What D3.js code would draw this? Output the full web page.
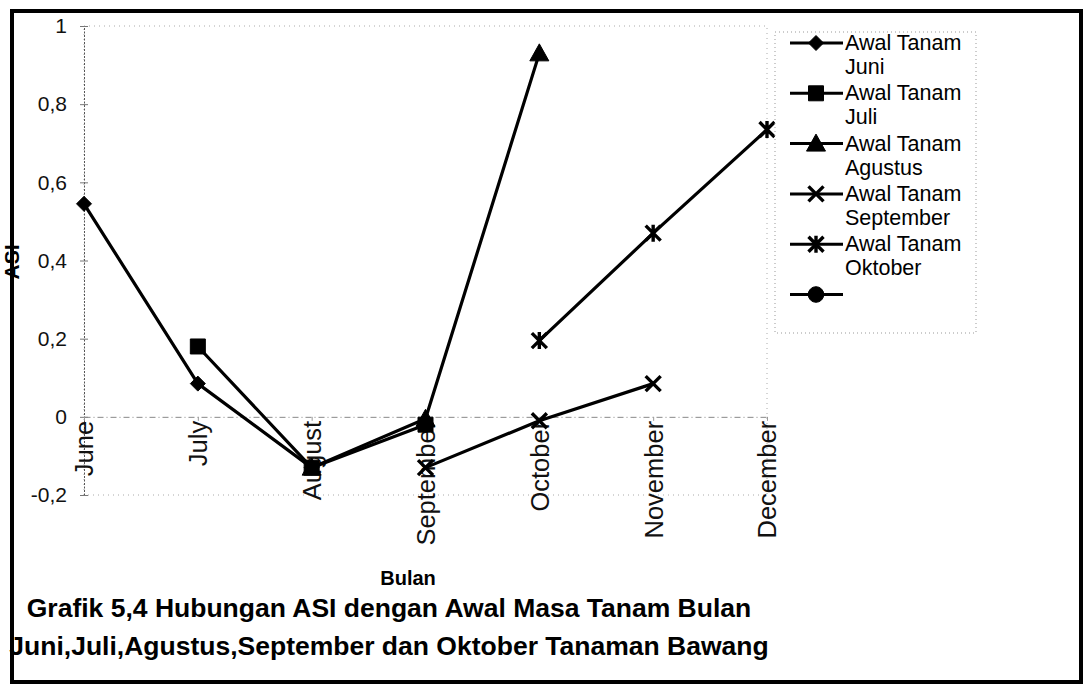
<!DOCTYPE html>
<html>
<head>
<meta charset="utf-8">
<script src="https://cdn.jsdelivr.net/npm/d3@7"></script>
<style>
  body { margin: 0; background: #fff; }
  svg { display: block; font-family: "Liberation Sans", Arial, sans-serif; }
</style>
</head>
<body>
<div id="chart"></div>
<script>
const width = 1089;
const height = 686;

// categories and tick labels
const months = ["June", "July", "August", "September", "October", "November", "December"];
const yTicks = [-0.2, 0, 0.2, 0.4, 0.6, 0.8, 1];

// ASI per planting start month (null = no value)
const juni = [0.545, 0.085, -0.13, null, null, null, null];
const juli = [null, 0.18, -0.13, -0.02, null, null, null];
const agustus = [null, null, -0.13, -0.005, 0.93, null, null];
const september = [null, null, null, -0.13, -0.01, 0.085, null];
const oktober = [null, null, null, null, 0.195, 0.47, 0.735];
const kosong = [null, null, null, null, null, null, null];

const legendLabels = [
  ["Awal Tanam", "Juni"],
  ["Awal Tanam", "Juli"],
  ["Awal Tanam", "Agustus"],
  ["Awal Tanam", "September"],
  ["Awal Tanam", "Oktober"],
  ["", ""]
];
const markerTypes = ["diamond", "square", "triangle", "cross", "asterisk", "circle"];
const seriesValues = [juni, juli, agustus, september, oktober, kosong];

const plot = { left: 84, right: 767, top: 26, bottom: 495 };

const svg = d3
  .select("#chart")
  .append("svg")
  .attr("width", width)
  .attr("height", height);

const x = d3.scalePoint().domain(months).range([plot.left, plot.right]);
const y = d3.scaleLinear().domain([-0.2, 1]).range([plot.bottom, plot.top]);

// decimal comma, plain hyphen minus
const fmt = (v) => String(+v.toFixed(1)).replace(".", ",");

// plot area outline (faint dotted, like the scan)
svg
  .append("rect")
  .attr("x", plot.left)
  .attr("y", plot.top)
  .attr("width", plot.right - plot.left)
  .attr("height", plot.bottom - plot.top)
  .attr("fill", "none")
  .attr("stroke", "#aaa")
  .attr("stroke-width", 1)
  .attr("stroke-dasharray", "1,4");

// y axis
const yAxis = svg
  .append("g")
  .attr("transform", `translate(${plot.left},0)`)
  .call(d3.axisLeft(y).tickValues(yTicks).tickSize(0).tickPadding(17).tickFormat(fmt));
yAxis.select(".domain").attr("stroke", "#555").attr("stroke-dasharray", "2,1.5");
yAxis.selectAll("text").attr("font-size", 21).attr("fill", "#111").attr("font-family", "Liberation Sans, Arial, sans-serif");
yAxis
  .selectAll(".tick")
  .append("line")
  .attr("x1", -4)
  .attr("x2", 4)
  .attr("stroke", "#777");

// x axis at zero
const xAxis = svg
  .append("g")
  .attr("transform", `translate(0,${y(0)})`)
  .call(d3.axisBottom(x).tickSize(4).tickSizeOuter(0).tickPadding(4));
xAxis.select(".domain").attr("stroke", "#888").attr("stroke-dasharray", "6,3,1,3");
xAxis.selectAll(".tick line").attr("stroke", "#999");
xAxis
  .selectAll("text")
  .attr("font-size", 25.5)
  .attr("fill", "#111")
  .attr("font-family", "Liberation Sans, Arial, sans-serif")
  .attr("text-anchor", "end")
  .attr("dy", "0.35em")
  .attr("transform", "rotate(-90)")
  .attr("x", -4)
  .attr("y", 0);

// axis titles
svg
  .append("text")
  .attr("transform", `translate(19,${262}) rotate(-90)`)
  .attr("text-anchor", "middle")
  .attr("font-weight", "bold")
  .attr("font-size", 21)
  .text("ASI");

svg
  .append("text")
  .attr("x", 408)
  .attr("y", 585)
  .attr("text-anchor", "middle")
  .attr("font-weight", "bold")
  .attr("font-size", 20)
  .text("Bulan");

// markers
const markerPath = (type, s) => {
  const h = s / 2;
  switch (type) {
    case "diamond":
      return `M0,${-h}L${h},0L0,${h}L${-h},0Z`;
    case "square":
      return `M${-h},${-h}H${h}V${h}H${-h}Z`;
    case "triangle":
      return `M0,${-h - 2}L${h + 2},${h}L${-h - 2},${h}Z`;
    case "cross":
      return `M${-h},${-h}L${h},${h}M${h},${-h}L${-h},${h}`;
    case "asterisk":
      return `M${-h},${-h}L${h},${h}M${h},${-h}L${-h},${h}M0,${-h - 1}V${h + 1}`;
    default:
      return d3.symbol(d3.symbolCircle, s * s * 0.85)();
  }
};

const drawMarker = (g, type, size) => {
  const open = type === "cross" || type === "asterisk";
  g.append("path")
    .attr("d", markerPath(type, size))
    .attr("fill", open ? "none" : "#000")
    .attr("stroke", "#000")
    .attr("stroke-width", open ? 3.4 : 1);
};

const line = d3
  .line()
  .defined((d) => d.v !== null)
  .x((d) => x(d.m))
  .y((d) => y(d.v));

seriesValues.forEach((vals, i) => {
  const pts = months.map((m, j) => ({ m, v: vals[j] }));
  const g = svg.append("g").attr("class", `series s${i}`);
  g.append("path")
    .datum(pts)
    .attr("d", line)
    .attr("fill", "none")
    .attr("stroke", "#000")
    .attr("stroke-width", 3.2)
    .attr("stroke-linejoin", "round");
  g.selectAll("g.pt")
    .data(pts.filter((d) => d.v !== null))
    .join("g")
    .attr("class", "pt")
    .attr("transform", (d) => `translate(${x(d.m)},${y(d.v)})`)
    .each(function () {
      drawMarker(d3.select(this), markerTypes[i], 15);
    });
});

// legend
const legend = svg.append("g").attr("class", "legend");
legend
  .append("rect")
  .attr("x", 775)
  .attr("y", 32)
  .attr("width", 201)
  .attr("height", 301)
  .attr("fill", "#fff")
  .attr("stroke", "#999")
  .attr("stroke-dasharray", "1,3");

legendLabels.forEach((lbl, i) => {
  const ly = 43 + i * 50.3;
  const item = legend.append("g").attr("transform", `translate(0,${ly})`);
  item
    .append("line")
    .attr("x1", 790)
    .attr("x2", 843)
    .attr("stroke", "#000")
    .attr("stroke-width", 3);
  drawMarker(item.append("g").attr("transform", "translate(816,0)"), markerTypes[i], 15);
  item
    .append("text")
    .attr("x", 845)
    .attr("y", 7)
    .attr("font-size", 21.5)
    .text(lbl[0]);
  item
    .append("text")
    .attr("x", 845)
    .attr("y", 31)
    .attr("font-size", 21.5)
    .text(lbl[1]);
});

// caption under the chart
const caption = [
  "Grafik 5,4 Hubungan ASI dengan Awal Masa Tanam Bulan",
  "Juni,Juli,Agustus,September dan Oktober Tanaman Bawang"
];
svg
  .selectAll("text.caption")
  .data(caption)
  .join("text")
  .attr("class", "caption")
  .attr("x", 389)
  .attr("y", (d, i) => 617 + i * 38)
  .attr("text-anchor", "middle")
  .attr("font-weight", "bold")
  .attr("font-size", 26.5)
  .text((d) => d);

// heavy outer frame
svg
  .append("rect")
  .attr("x", 12)
  .attr("y", 11)
  .attr("width", 1069)
  .attr("height", 671)
  .attr("fill", "none")
  .attr("stroke", "#000")
  .attr("stroke-width", 4);
</script>
</body>
</html>
